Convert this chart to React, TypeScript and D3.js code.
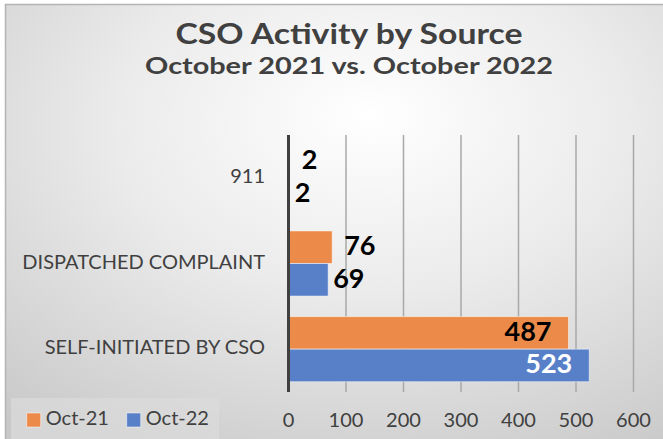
import React from "react";
import * as d3 from "d3";

const categories = ["911", "DISPATCHED COMPLAINT", "SELF-INITIATED BY CSO"];
const seriesNames = ["Oct-21", "Oct-22"];
const oct21 = [2, 76, 487];
const oct22 = [2, 69, 523];
const xTicks = [0, 100, 200, 300, 400, 500, 600];

const W = 663;
const H = 439;
const colors: Record<string, string> = { "Oct-21": "#EC8B49", "Oct-22": "#5880C9" };
const FONT = "Lato, 'Open Sans', sans-serif";

export default function App() {
  const x = d3.scaleLinear().domain([0, 600]).range([288.5, 633.5]);
  const y = d3.scaleBand<string>().domain(categories).range([135, 392]).paddingInner(0.24).paddingOuter(0.12);
  const inner = d3.scaleBand<string>().domain(seriesNames).range([0, y.bandwidth()]);
  const values: Record<string, number[]> = { "Oct-21": oct21, "Oct-22": oct22 };

  return (
    <svg width={W} height={H} style={{ position: "absolute", left: 0, top: 0 }} fontFamily={FONT}>
      <defs>
        <radialGradient id="bg" cx="0.55" cy="0.3" r="0.85" fx="0.55" fy="0.25">
          <stop offset="0" stopColor="#ffffff" />
          <stop offset="0.45" stopColor="#ebebeb" />
          <stop offset="1" stopColor="#c8c8c8" />
        </radialGradient>
      </defs>
      <rect x={0} y={0} width={W} height={H} fill="#ffffff" />
      <rect x={5.5} y={4.5} width={W} height={H} fill="url(#bg)" stroke="#b4b4b4" strokeWidth={1.5} />
      <text x={349} y={44} textAnchor="middle" fontWeight={700} fontSize={29} fill="#404040" textLength={347} lengthAdjust="spacingAndGlyphs">
        CSO Activity by Source
      </text>
      <text x={349} y={74} textAnchor="middle" fontWeight={700} fontSize={23.5} fill="#404040" textLength={408} lengthAdjust="spacingAndGlyphs">
        October 2021 vs. October 2022
      </text>
      {xTicks.map((t) => (
        <g key={t}>
          <line x1={x(t)} x2={x(t)} y1={135} y2={392} stroke="#a8a8a8" strokeWidth={1.5} />
          <text x={x(t)} y={422} textAnchor="middle" dominantBaseline="middle" fontSize={20} fill="#404040">
            {t}
          </text>
        </g>
      ))}
      {categories.map((c, i) => (
        <g key={c}>
          <text x={265} y={(y(c) as number) + y.bandwidth() / 2} textAnchor="end" dominantBaseline="middle" fontSize={20} fill="#404040">
            {c}
          </text>
          {seriesNames.map((s) => {
            const v = values[s][i];
            const by = (y(c) as number) + (inner(s) as number);
            const bh = inner.bandwidth();
            const inside = v > 300;
            const lx = inside ? x(v) - 17 : x(v) + (s === "Oct-21" ? 12 : 5);
            return (
              <g key={s}>
                <rect x={x(0)} y={by} width={x(v) - x(0)} height={bh} fill={colors[s]} stroke="#ffffff" strokeOpacity={0.5} strokeWidth={1} />
                <text x={lx} y={by + bh / 2 + 1} textAnchor={inside ? "end" : "start"} dominantBaseline="middle" fontWeight={700} fontSize={27} fill={inside && s === "Oct-22" ? "#ffffff" : "#000000"}>
                  {v}
                </text>
              </g>
            );
          })}
        </g>
      ))}
      <line x1={x(0)} x2={x(0)} y1={135} y2={392} stroke="#404040" strokeWidth={3} />
      <rect x={11} y={398} width={208} height={41} fill="#dcdcdc" opacity={0.7} />
      {seriesNames.map((s, i) => (
        <g key={s} transform={`translate(${26.7 + i * 100},0)`}>
          <rect x={0} y={413} width={14} height={14} fill={colors[s]} stroke="#ffffff" strokeOpacity={0.5} />
          <text x={19} y={420} dominantBaseline="middle" fontSize={20} fill="#404040">
            {s}
          </text>
        </g>
      ))}
    </svg>
  );
}
